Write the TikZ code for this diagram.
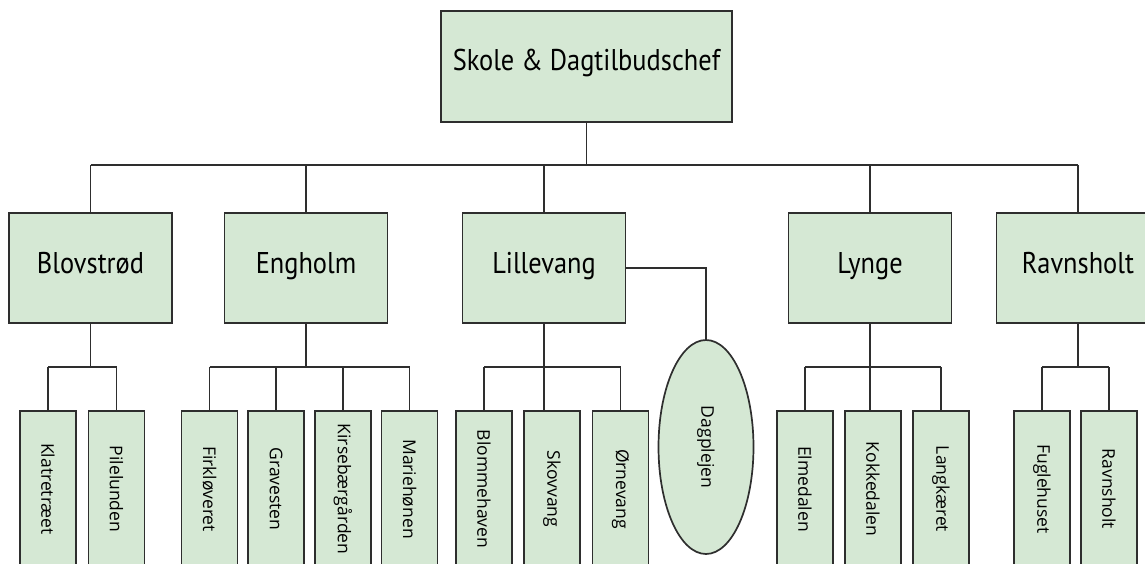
\documentclass[tikz,border=0pt]{standalone}
\usepackage{fontspec}
\setmainfont{PT Sans}
\newfontfamily\headfont[FakeStretch=0.88]{PT Sans}
\newfontfamily\leaffont{Open Sans}
\usetikzlibrary{shapes.geometric}
\definecolor{boxfill}{HTML}{D5E8D4}
\definecolor{edgec}{HTML}{2E2E2E}
\begin{document}
\begin{tikzpicture}[x=1pt,y=-1pt,
  box/.style={draw=edgec, line width=1.7pt, fill=boxfill, rectangle, inner sep=0pt},
  chief/.style={box, minimum width=291pt, minimum height=111pt, font=\headfont\fontsize{30}{36}\selectfont},
  mgr/.style={box, minimum width=163pt, minimum height=110pt, text depth=11pt, font=\headfont\fontsize{30}{36}\selectfont},
  leaf/.style={box, rotate=-90, minimum width=156pt, minimum height=56pt, font=\leaffont\fontsize{17.5}{20}\selectfont},
  oval/.style={draw=edgec, line width=1.7pt, fill=boxfill, ellipse, inner sep=0pt, minimum width=95pt, minimum height=214pt},
  conn/.style={draw=edgec, line width=1.5pt}]
\useasboundingbox (0,0) rectangle (1145,563);
\clip (0,0) rectangle (1145,563);
% chief
\node[chief, text depth=14pt] (top) at (586.5,66.5) {Skole \& Dagtilbudschef};
% managers
\node[mgr] (blov) at (90.5,268) {Blovstrød};
\node[mgr] (eng) at (306,268) {Engholm};
\node[mgr] (lil) at (544,268) {Lillevang};
\node[mgr] (lyn) at (870,268) {Lynge};
\node[mgr] (rav) at (1078,268) {Ravnsholt};
\coordinate (bus) at (0,165);
\coordinate (sub) at (0,367);
% leaves
\node[leaf] (kla) at (48,489) {Klatretræet};
\node[leaf] (pil) at (116.5,489) {Pilelunden};
\node[leaf] (fir) at (209.5,489) {Firkløveret};
\node[leaf] (gra) at (276,489) {Gravesten};
\node[leaf] (kir) at (343,489) {Kirsebærgården};
\node[leaf] (mar) at (409.5,489) {Mariehønen};
\node[leaf] (blo) at (484,489) {Blommehaven};
\node[leaf] (sko) at (552,489) {Skovvang};
\node[leaf] (orn) at (620.5,489) {Ørnevang};
\node[oval] (dag) at (706,447) {};
\node[rotate=-90, font=\leaffont\fontsize{17.5}{20}\selectfont] (dagt) at (dag.center) {Dagplejen};
\node[leaf] (elm) at (805,489) {Elmedalen};
\node[leaf] (kok) at (873,489) {Kokkedalen};
\node[leaf] (lan) at (941,489) {Langkæret};
\node[leaf] (fug) at (1042,489) {Fuglehuset};
\node[leaf] (rvl) at (1109,489) {Ravnsholt};
% top connectors
\draw[conn] (top.south) -- (top.south |- bus);
\draw[conn] (blov.north |- bus) -- (rav.north |- bus);
\foreach \m in {blov,eng,lil,lyn,rav} \draw[conn] (\m.north |- bus) -- (\m.north);
% Blovstrød
\draw[conn] (blov.south) -- (blov.south |- sub);
\draw[conn] (kla.west |- sub) -- (pil.west |- sub);
\foreach \c in {kla,pil} \draw[conn] (\c.west |- sub) -- (\c.west);
% Engholm
\draw[conn] (eng.south) -- (eng.south |- sub);
\draw[conn] (fir.west |- sub) -- (mar.west |- sub);
\foreach \c in {fir,gra,kir,mar} \draw[conn] (\c.west |- sub) -- (\c.west);
% Lillevang
\draw[conn] (lil.south) -- (lil.south |- sko.west);
\draw[conn] (blo.west |- sub) -- (orn.west |- sub);
\foreach \c in {blo,orn} \draw[conn] (\c.west |- sub) -- (\c.west);
\draw[conn] (lil.east) -| (dag.north);
% Lynge
\draw[conn] (lyn.south) -- (lyn.south |- kok.west);
\draw[conn] (elm.west |- sub) -- (lan.west |- sub);
\foreach \c in {elm,lan} \draw[conn] (\c.west |- sub) -- (\c.west);
% Ravnsholt
\draw[conn] (rav.south) -- (rav.south |- sub);
\draw[conn] (fug.west |- sub) -- (rvl.west |- sub);
\foreach \c in {fug,rvl} \draw[conn] (\c.west |- sub) -- (\c.west);
\end{tikzpicture}
\end{document}
